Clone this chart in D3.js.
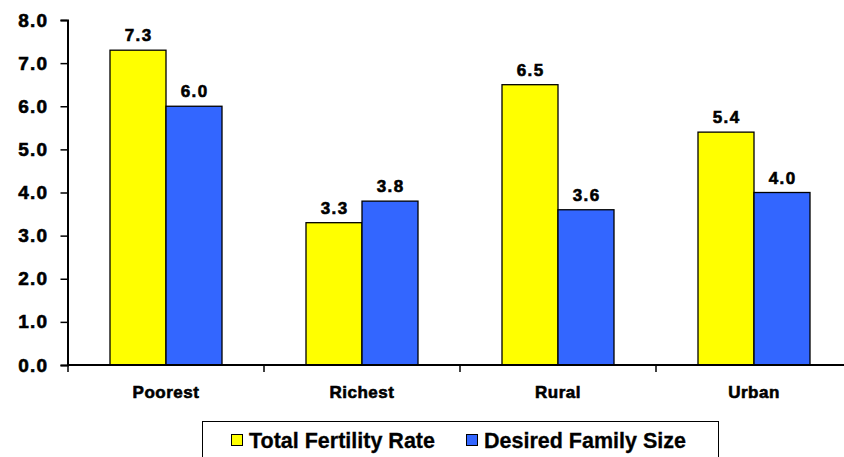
<!DOCTYPE html>
<html><head><meta charset="utf-8">
<script src="https://cdn.jsdelivr.net/npm/d3@7"></script>
<style>
html,body{margin:0;padding:0;background:#fff;}
svg{display:block;font-family:"Liberation Sans",Arial,sans-serif;}
.heavy{stroke:#000;stroke-width:0.6px;paint-order:stroke;}
</style></head>
<body>
<svg id="c" width="844" height="457"></svg>
<script>
const categories = ["Poorest","Richest","Rural","Urban"];
const seriesNames = ["Total Fertility Rate","Desired Family Size"];
const tfr = [7.3, 3.3, 6.5, 5.4];
const dfs = [6.0, 3.8, 3.6, 4.0];
const yTicks = [0,1,2,3,4,5,6,7,8];
const colors = ["#FFFF00","#3366FF"];

const svg = d3.select("#c");
const y = d3.scaleLinear().domain([0,8]).range([365,20]);
const x0 = d3.scaleBand().domain(categories).range([68,852]).padding(0);
const x1 = d3.scaleBand().domain(seriesNames).range([0,112]).padding(0);
const off = (x0.bandwidth()-112)/2;
const seriesVals = [tfr, dfs];

// bars
seriesNames.forEach((s,si)=>{
  const g = svg.append("g");
  g.selectAll("rect").data(categories).join("rect")
    .attr("x", (c)=>x0(c)+off+x1(s))
    .attr("y", (c,i)=>y(seriesVals[si][i]))
    .attr("width", x1.bandwidth())
    .attr("height", (c,i)=>y(0)-y(seriesVals[si][i]))
    .attr("fill", colors[si])
    .attr("stroke","#000").attr("stroke-width",1.3);
  g.selectAll("text").data(categories).join("text")
    .attr("class","heavy")
    .attr("x", (c)=>x0(c)+off+x1(s)+x1.bandwidth()/2+0.7)
    .attr("y", (c,i)=>y(seriesVals[si][i])-9)
    .attr("text-anchor","middle")
    .attr("font-size","17px").attr("font-weight","bold")
    .attr("letter-spacing","1.4px")
    .text((c,i)=>seriesVals[si][i].toFixed(1));
});

// y axis
const ya = svg.append("g").attr("transform","translate(67.5,0)")
  .call(d3.axisLeft(y).tickValues(yTicks).tickSize(7).tickPadding(12).tickFormat(d=>d.toFixed(1)));
ya.select(".domain").attr("stroke","#000").attr("stroke-width",2);
ya.selectAll(".tick line").attr("stroke","#000").attr("stroke-width",1.5);
ya.selectAll(".tick text").attr("class","heavy").attr("font-size","19px").attr("font-weight","bold")
  .attr("letter-spacing","1.3px").attr("fill","#000").attr("font-family","Liberation Sans, Arial, sans-serif");

// x axis
const xa = svg.append("g").attr("transform","translate(0,365)");
xa.append("line").attr("x1",67).attr("x2",852).attr("y1",0).attr("y2",0)
  .attr("stroke","#000").attr("stroke-width",2);
xa.selectAll("line.t").data(categories).join("line").attr("class","t")
  .attr("x1",c=>x0(c)).attr("x2",c=>x0(c)).attr("y1",0).attr("y2",7)
  .attr("stroke","#000").attr("stroke-width",1.5);
xa.selectAll("text").data(categories).join("text")
  .attr("class","heavy")
  .attr("x",c=>x0(c)+x0.bandwidth()/2).attr("y",33)
  .attr("text-anchor","middle").attr("font-size","17px").attr("font-weight","bold")
  .attr("letter-spacing","0.5px")
  .text(c=>c);

// legend
const lg = svg.append("g");
lg.append("rect").attr("x",202.5).attr("y",421.5).attr("width",516).attr("height",45)
  .attr("fill","#fff").attr("stroke","#000").attr("stroke-width",1);
const lx = [231, 466];
const tx = [249, 484];
seriesNames.forEach((s,i)=>{
  lg.append("rect").attr("x",lx[i]+0.5).attr("y",434.5).attr("width",11).attr("height",11)
    .attr("fill",colors[i]).attr("stroke","#000").attr("stroke-width",1);
  lg.append("text").attr("class","heavy").attr("x",tx[i]).attr("y",448).attr("font-size","21.5px").attr("font-weight","bold")
    .style("stroke-width","0.3px")
    .text(s);
});
</script>
</body></html>
